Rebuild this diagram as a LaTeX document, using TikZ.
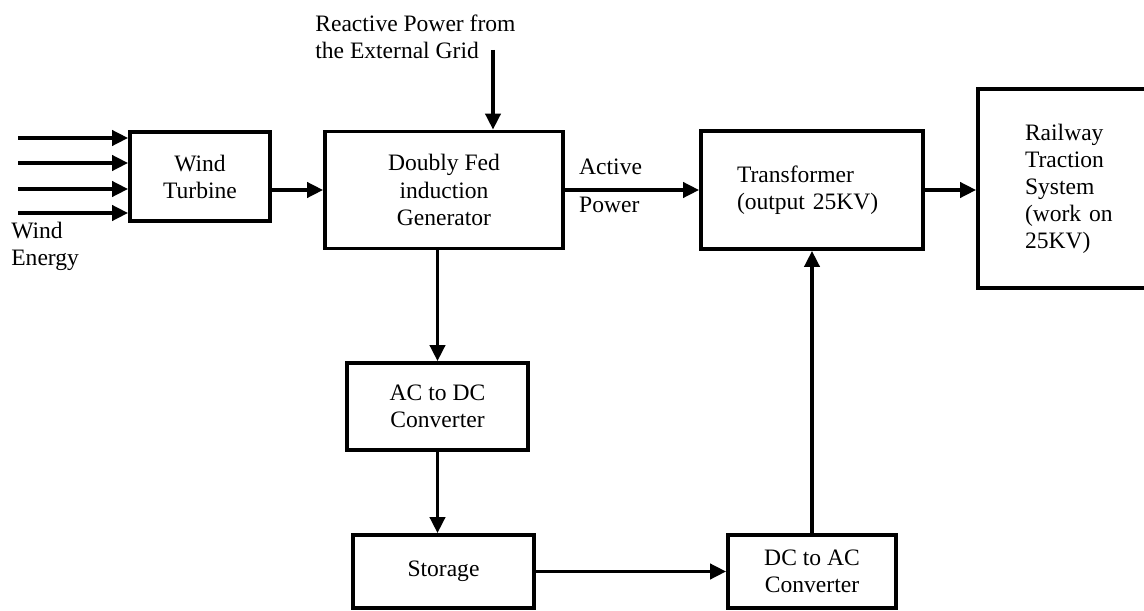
\documentclass[tikz,border=0pt]{standalone}
\usepackage{fontspec}
\setmainfont{Liberation Serif}
\usepackage{tikz}
\usetikzlibrary{arrows.meta,positioning}

\tikzset{
  block/.style={draw, line width=2.1pt, align=center, inner sep=0pt},
  arr/.style={line width=2.1pt, -{Triangle[length=0.32cm,width=0.3cm]}},
  lbl/.style={align=left, inner sep=0pt},
}

\begin{document}
\begin{tikzpicture}[font=\fontsize{13.4}{15.4}\selectfont]
\useasboundingbox (0,0) rectangle (22.88,12.2);
\clip (0,0) rectangle (22.88,12.2);

% blocks
\node[block, minimum width=2.8cm, minimum height=1.78cm] (wt) at (4.0,8.67) {Wind\\Turbine};
\node[block, minimum width=4.76cm, minimum height=2.34cm] (dfig) at (8.88,8.4) {Doubly Fed\\induction\\Generator};
\node[block, minimum width=4.44cm, minimum height=2.36cm, align=left, text width=3.0cm, inner xsep=0.72cm] (trans) at (16.24,8.4) {Transformer\\(output 25KV)};
\node[block, minimum width=4.0cm, minimum height=3.98cm, align=left, text width=2.12cm, inner xsep=0.94cm] (rail) at (21.56,8.43) {Railway\\Traction\\System\\(work on\\25KV)};
\node[block, minimum width=3.62cm, minimum height=1.74cm] (acdc) at (8.75,4.07) {AC to DC\\Converter};
\node[block, minimum width=3.62cm, minimum height=1.46cm] (store) at (8.87,0.77) {Storage};
\node[block, minimum width=3.36cm, minimum height=1.46cm] (dcac) at (16.24,0.77) {DC to AC\\Converter};

% labels
\node[lbl, anchor=west] (wind) at (0.22,7.27) {Wind\\Energy};
\node[lbl, anchor=west] (react) at (6.3,11.47) {Reactive Power from\\the External Grid};
\node[lbl, anchor=west] (active) at ([xshift=0.28cm,yshift=0.46cm]dfig.east) {Active};
\node[lbl, anchor=west] (power) at ([xshift=0.28cm,yshift=-0.3cm]dfig.east) {Power};

% wind input
\foreach \y [count=\i] in {9.44,8.94,8.42,7.94} {
  \coordinate (w\i) at (0.36,\y);
  \draw[arr] (w\i) -- (w\i -| wt.west);
}
\coordinate (rsrc) at (9.86,11.2);

% connections
\draw[arr] (wt.east |- dfig.west) -- (dfig.west);
\draw[arr] (rsrc) -- (rsrc |- dfig.north);
\draw[arr] (dfig.east) -- (trans.west);
\draw[arr] (trans.east) -- (trans.east -| rail.west);
\draw[arr] (dfig.south -| acdc.north) -- (acdc.north);
\draw[arr] (acdc.south) -- (acdc.south |- store.north);
\draw[arr] (store.east |- dcac.west) -- (dcac.west);
\draw[arr] (dcac.north) -- (trans.south);
\end{tikzpicture}
\end{document}
